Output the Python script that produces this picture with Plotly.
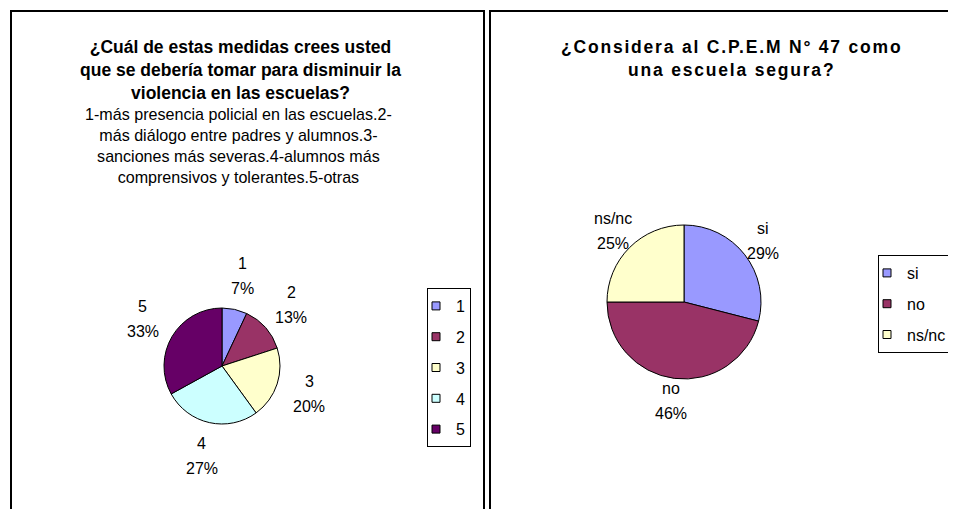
import math
import plotly.graph_objects as go

# Datos de las dos encuestas
medidas = ['1', '2', '3', '4', '5']
medidas_pct = [7, 13, 20, 27, 33]
medidas_colores = ['#9999FF', '#993366', '#FFFFCC', '#CCFFFF', '#660066']

seguridad = ['si', 'no', 'ns/nc']
seguridad_pct = [29, 46, 25]
seguridad_colores = ['#9999FF', '#993366', '#FFFFCC']

titulo_izq = ('¿Cuál de estas medidas crees usted<br>'
              'que se debería tomar para disminuir la<br>'
              'violencia en las escuelas?')
subtitulo_izq = ('1-más presencia policial en las escuelas.2-<br>'
                 'más diálogo entre padres y alumnos.3-<br>'
                 'sanciones más severas.4-alumnos más<br>'
                 'comprensivos y tolerantes.5-otras')
titulo_der = '¿Considera al C.P.E.M N° 47 como<br>una escuela segura?'

# la página tiene 8px de margen en el body
MARGEN = 8
W, H = 956 - MARGEN, 509 - MARGEN
FUENTE = 'Liberation Sans, Arial, sans-serif'
NEGRO = 'black'


def px_x(x):
    return (x - MARGEN) / W


def px_y(y):
    return 1 - (y - MARGEN) / H


def dominio(cx, cy, r):
    return dict(x=[px_x(cx - r), px_x(cx + r)], y=[px_y(cy + r), px_y(cy - r)])


def torta(etiquetas, valores, colores, cx, cy, r):
    return go.Pie(
        labels=etiquetas,
        values=valores,
        sort=False,
        direction='clockwise',
        rotation=0,
        marker=dict(colors=colores, line=dict(color=NEGRO, width=1)),
        textinfo='none',
        domain=dominio(cx, cy, r),
        showlegend=False,
        hoverinfo='label+percent',
    )


def etiquetas_torta(fig, etiquetas, valores, cx, cy, distancia, interlinea=25):
    # rótulo "categoría / porcentaje" centrado fuera de cada porción, como en Excel
    total = sum(valores)
    acumulado = 0
    for lab, v in zip(etiquetas, valores):
        medio = (acumulado + v / 2) / total * 2 * math.pi
        acumulado += v
        x = cx + distancia * math.sin(medio)
        y = cy - distancia * math.cos(medio)
        for texto, dy in ((lab, -interlinea / 2), (f'{round(100 * v / total)}%', interlinea / 2)):
            fig.add_annotation(
                text=texto,
                xref='paper', yref='paper', x=px_x(x), y=px_y(y + dy),
                xanchor='center', yanchor='middle', showarrow=False,
                font=dict(family=FUENTE, size=16, color=NEGRO),
            )


def entradas_leyenda(etiquetas, colores, leyenda):
    # una entrada por categoría, cada una en su grupo para separar los ítems
    trazas = []
    for lab, col in zip(etiquetas, colores):
        trazas.append(go.Scatter(
            x=[None], y=[None],
            mode='markers',
            marker=dict(symbol='square', size=8, color=col,
                        line=dict(color=NEGRO, width=1)),
            name=lab,
            legend=leyenda,
            legendgroup=leyenda + lab,
            showlegend=True,
        ))
    return trazas


fig = go.Figure()
fig.add_trace(torta(medidas, medidas_pct, medidas_colores, 222, 366, 58))
fig.add_trace(torta(seguridad, seguridad_pct, seguridad_colores, 684, 302, 77))
for t in entradas_leyenda(medidas, medidas_colores, 'legend'):
    fig.add_trace(t)
for t in entradas_leyenda(seguridad, seguridad_colores, 'legend2'):
    fig.add_trace(t)

etiquetas_torta(fig, medidas, medidas_pct, 222, 366, 92)
etiquetas_torta(fig, seguridad, seguridad_pct, 684, 302, 100)

estilo_leyenda = dict(
    bgcolor='white', bordercolor=NEGRO, borderwidth=1,
    font=dict(family=FUENTE, size=16, color=NEGRO),
    xanchor='right', yanchor='top', tracegroupgap=7,
    indentation=-12,
    itemclick=False, itemdoubleclick=False,
)

fig.update_layout(
    width=W, height=H,
    margin=dict(l=0, r=0, t=0, b=0),
    paper_bgcolor='white',
    plot_bgcolor='white',
    font=dict(family=FUENTE, color=NEGRO),
    xaxis=dict(visible=False),
    yaxis=dict(visible=False),
    legend=dict(x=px_x(471), y=px_y(288), **estilo_leyenda),
    legend2=dict(x=px_x(952), y=px_y(255), **estilo_leyenda),
)

# Marcos de cada gráfico
fig.add_shape(type='rect', xref='paper', yref='paper',
              x0=px_x(11), x1=px_x(484), y0=-0.1, y1=px_y(11),
              line=dict(color=NEGRO, width=2))
fig.add_shape(type='rect', xref='paper', yref='paper',
              x0=px_x(490), x1=1.1, y0=-0.1, y1=px_y(11),
              line=dict(color=NEGRO, width=2))

# Títulos
fig.add_annotation(text='<b>' + titulo_izq + '</b>', xref='paper', yref='paper',
                   x=px_x(240), y=px_y(69.5), xanchor='center', yanchor='middle',
                   showarrow=False, font=dict(family=FUENTE, size=17.5, color=NEGRO))
fig.add_annotation(text=subtitulo_izq, xref='paper', yref='paper',
                   x=px_x(238), y=px_y(145), xanchor='center', yanchor='middle',
                   showarrow=False, font=dict(family=FUENTE, size=16.1, color=NEGRO))
fig.add_annotation(text='<b><span style="letter-spacing:1.8px">' + titulo_der + '</span></b>',
                   xref='paper', yref='paper',
                   x=px_x(731), y=px_y(58.5), xanchor='center', yanchor='middle',
                   showarrow=False, font=dict(family=FUENTE, size=17.5, color=NEGRO))

fig.write_html('out.html')
